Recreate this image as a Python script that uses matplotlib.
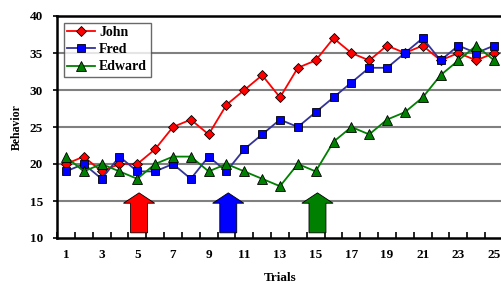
import matplotlib
matplotlib.use("Agg")
import matplotlib.pyplot as plt
import numpy as np

trials = list(range(1, 26))
john = [20, 21, 19, 20, 20, 22, 25, 26, 24, 28, 30, 32, 29, 33, 34, 37, 35, 34, 36, 35, 36, 34, 35, 34, 35]
fred = [19, 20, 18, 21, 19, 19, 20, 18, 21, 19, 22, 24, 26, 25, 27, 29, 31, 33, 33, 35, 37, 34, 36, 35, 36]
edward = [21, 19, 20, 19, 18, 20, 21, 21, 19, 20, 19, 18, 17, 20, 19, 23, 25, 24, 26, 27, 29, 32, 34, 36, 34]
arrow_trials = [5.1, 10.1, 15.1]
arrow_colors = ["#ff0000", "#0000ff", "#008000"]
xtick_labels = [str(t) for t in range(1, 26, 2)]
yticks = [10, 15, 20, 25, 30, 35, 40]

plt.rcParams['font.family'] = ['Liberation Serif', 'DejaVu Serif']
plt.rcParams['font.weight'] = 'bold'

fig = plt.figure(figsize=(5.02, 2.84), dpi=100)
ax = fig.add_axes([57/502, (284-238)/284, 1.0 - 57/502 + 0.002, (238-16)/284])

for y in yticks[1:-1]:
    ax.axhline(y, color="#808080", lw=1.5, zorder=0)

ax.plot(trials, john, color="#ff0000", lw=1.3, marker="D", ms=5, mfc="#ff0000", mec="black", mew=0.6, label="John", zorder=3)
ax.plot(trials, fred, color="#333399", lw=1.3, marker="s", ms=5.5, mfc="#0000ff", mec="black", mew=0.6, label="Fred", zorder=3)
ax.plot(trials, edward, color="#008000", lw=1.3, marker="^", ms=6.5, mfc="#008000", mec="black", mew=0.6, label="Edward", zorder=3)

for xt, c in zip(arrow_trials, arrow_colors):
    ax.arrow(xt, 10.7, 0, 5.4, width=0.95, head_width=1.75, head_length=1.4,
             length_includes_head=True, fc=c, ec="black", lw=0.6, zorder=2)

ax.set_xlim(0.5, 25.5)
ax.set_ylim(10, 40)
ax.set_yticks(yticks)
ax.set_yticklabels([str(v) for v in yticks], fontsize=9.5, fontweight='bold')
ax.set_xticks(range(1, 26, 2))
ax.set_xticklabels(xtick_labels, fontsize=9.5, fontweight='bold')
ax.tick_params(axis='x', length=0, pad=8)
ax.set_xticks(np.arange(0.5, 26, 1.0), minor=True)
ax.tick_params(axis='x', which='minor', direction='in', length=4, width=1.2)
ax.tick_params(axis='y', length=3, width=1.2, pad=7)

for s in ["left", "bottom", "top"]:
    ax.spines[s].set_linewidth(1.8)
    ax.spines[s].set_color("black")
ax.spines["right"].set_visible(False)

ax.set_xlabel("Trials", fontsize=9.5, fontweight='bold', labelpad=8)
ax.set_ylabel("Behavior", fontsize=8.5, fontweight='bold', labelpad=5)

leg = ax.legend(loc="upper left", bbox_to_anchor=(0.015, 0.97), fontsize=10,
                frameon=True, fancybox=False, edgecolor="#444444",
                handlelength=2.0, handletextpad=0.3, borderpad=0.25,
                labelspacing=0.3, borderaxespad=0.0)
leg.get_frame().set_linewidth(1.0)
for t in leg.get_texts():
    t.set_fontweight('bold')

fig.savefig("out.png", dpi=100)
